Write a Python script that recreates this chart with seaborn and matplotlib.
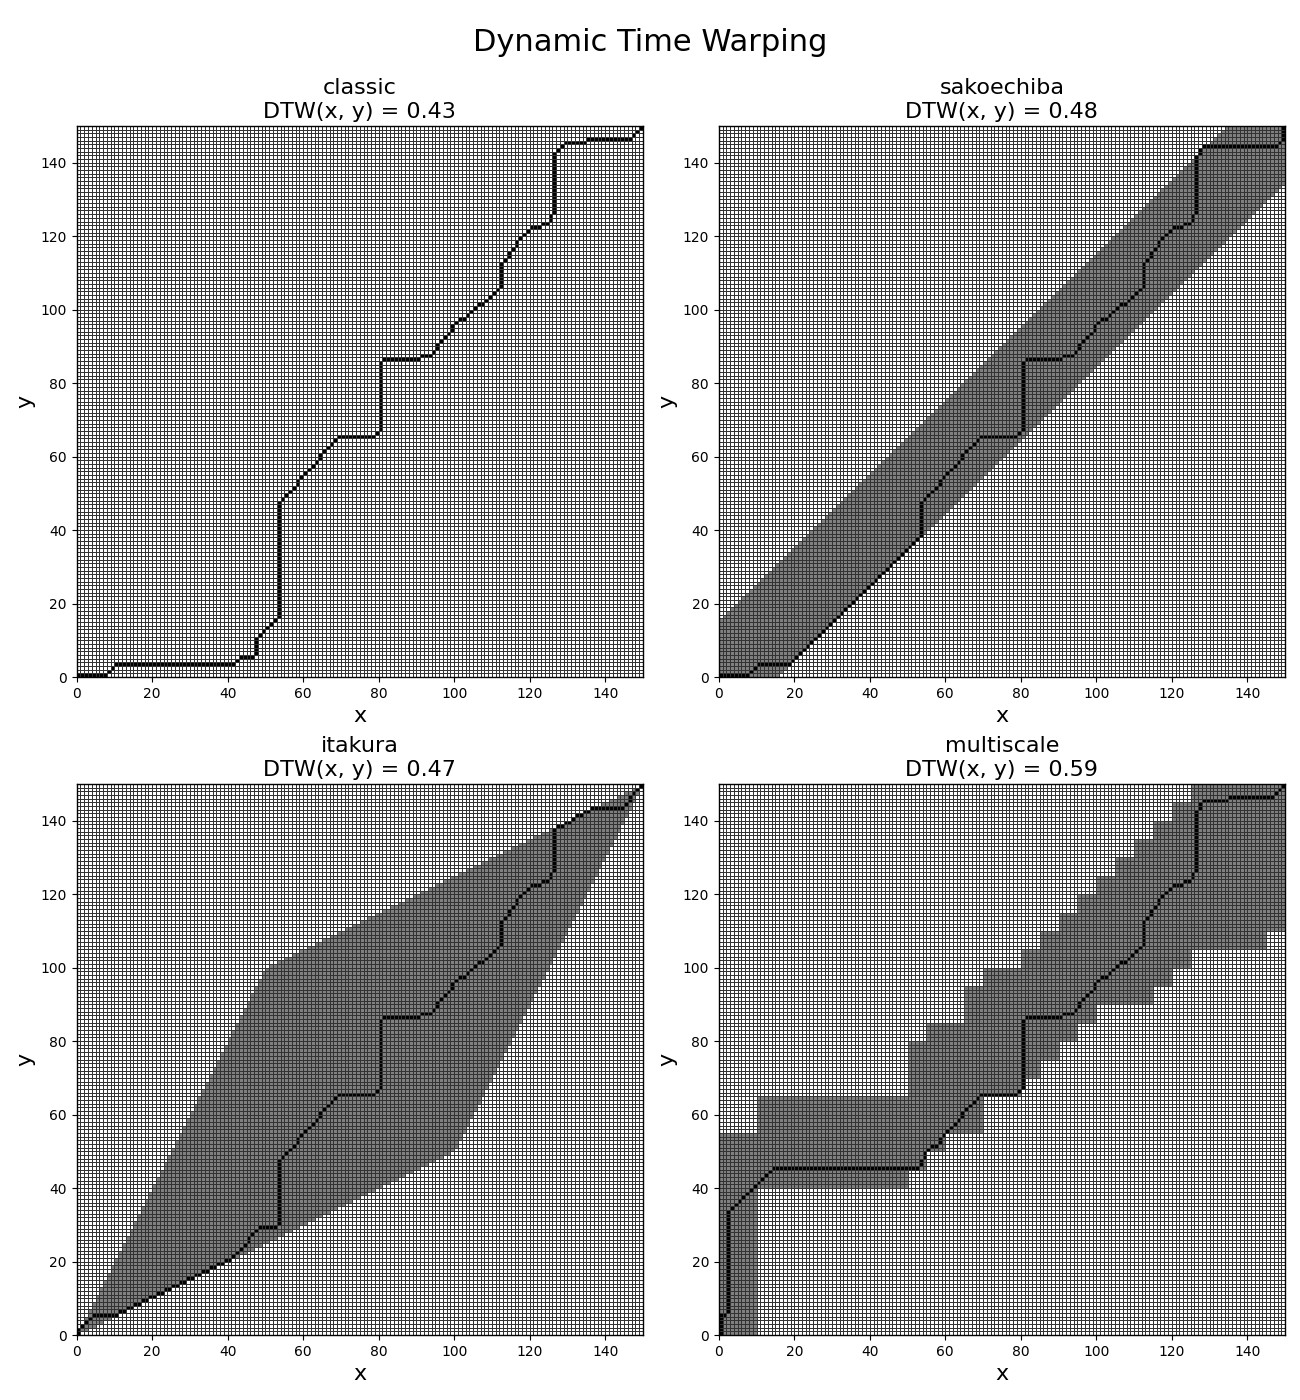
import numpy as np
import matplotlib
matplotlib.use("Agg")
import matplotlib.pyplot as plt
from matplotlib.colors import ListedColormap
import seaborn as sns

# 方法名与对应的 DTW 距离
methods = ["classic", "sakoechiba", "itakura", "multiscale"]
dtw_scores = [0.43, 0.48, 0.47, 0.59]
grid_size = 150

# 约束参数
sakoe_radius = 15
itakura_slope = 2.0

# multiscale 约束：每个列块的起点、下界、上界
ms_block_x = [0, 10, 50, 55, 60, 65, 70, 80, 85, 90, 95, 100, 105, 110, 115, 120, 125, 145]
ms_block_low = [0, 40, 45, 50, 55, 55, 65, 70, 75, 80, 85, 90, 90, 90, 95, 100, 105, 110]
ms_block_high = [55, 65, 80, 85, 85, 95, 100, 105, 110, 115, 120, 125, 130, 135, 140, 145, 150, 150]

# 对齐路径的拐点 (x, y)
classic_path = [
    (0, 0), (7, 0), (10, 3), (41, 3), (43, 5), (46, 5), (47, 6), (47, 10), (53, 16),
    (53, 47), (58, 52), (58, 53), (64, 59), (64, 60), (69, 65), (78, 65), (80, 67),
    (80, 85), (81, 86), (90, 86), (91, 87), (93, 87), (101, 97), (102, 97), (112, 106),
    (112, 112), (118, 120), (120, 122), (122, 122), (125, 124), (126, 126), (126, 141),
    (127, 143), (129, 145), (134, 145), (135, 146), (146, 146), (149, 149),
]
sakoechiba_path = [
    (0, 0), (7, 0), (10, 3), (18, 3), (53, 38), (53, 47), (58, 52), (58, 53), (64, 59),
    (64, 60), (69, 65), (78, 65), (80, 67), (80, 85), (81, 86), (90, 86), (91, 87),
    (93, 87), (101, 97), (102, 97), (112, 106), (112, 112), (118, 120), (120, 122),
    (122, 122), (125, 124), (126, 126), (126, 141), (127, 142), (128, 144), (147, 144),
    (148, 145), (149, 146), (149, 149),
]
itakura_path = [
    (0, 0), (1, 2), (4, 5), (10, 5), (41, 21), (48, 29), (52, 29), (53, 30), (53, 47),
    (58, 52), (58, 53), (64, 59), (64, 60), (69, 65), (78, 65), (80, 67), (80, 85),
    (81, 86), (90, 86), (91, 87), (93, 87), (101, 97), (102, 97), (112, 106), (112, 112),
    (118, 120), (120, 122), (122, 122), (125, 124), (126, 126), (126, 137), (136, 143),
    (144, 143), (149, 149),
]
multiscale_path = [
    (0, 0), (0, 5), (2, 6), (2, 33), (14, 45), (52, 45), (54, 48), (55, 50), (56, 51),
    (57, 51), (58, 52), (58, 53), (64, 59), (64, 60), (69, 65), (78, 65), (80, 67),
    (80, 85), (81, 86), (90, 86), (91, 87), (93, 87), (101, 97), (102, 97), (112, 106),
    (112, 112), (118, 120), (120, 122), (122, 122), (125, 124), (126, 126), (126, 142),
    (128, 145), (134, 145), (135, 146), (146, 146), (149, 149),
]


def trace(waypoints):
    """
    将拐点展开为逐格的路径。
    """
    cells = [waypoints[0]]
    for (x0, y0), (x1, y1) in zip(waypoints[:-1], waypoints[1:]):
        n = max(abs(x1 - x0), abs(y1 - y0))
        for k in range(1, n + 1):
            cells.append((x0 + round(k * (x1 - x0) / n), y0 + round(k * (y1 - y0) / n)))
    return cells


def build_masks():
    idx = np.arange(grid_size)
    xx, yy = np.meshgrid(idx, idx)

    classic = np.zeros((grid_size, grid_size))
    sakoe = (np.abs(xx - yy) <= sakoe_radius).astype(float)

    itakura = np.zeros((grid_size, grid_size))
    n = grid_size - 1
    for i in range(grid_size):
        low = int(np.ceil(max(i / itakura_slope, n - itakura_slope * n + itakura_slope * i)))
        high = int(np.floor(min(itakura_slope * i, n - n / itakura_slope + i / itakura_slope)))
        itakura[low:high + 1, i] = 1

    multi = np.zeros((grid_size, grid_size))
    ends = ms_block_x[1:] + [grid_size]
    for x0, x1, lo, hi in zip(ms_block_x, ends, ms_block_low, ms_block_high):
        multi[lo:hi, x0:x1] = 1

    return [classic, sakoe, itakura, multi]


def main():
    masks = build_masks()
    paths = [classic_path, sakoechiba_path, itakura_path, multiscale_path]
    cmap = ListedColormap(["white", "gray", "black"])

    fig, axes = plt.subplots(2, 2, figsize=(13, 14), dpi=100)
    fig.subplots_adjust(left=0.059, right=0.9885, top=0.91, bottom=0.0464, wspace=0.134, hspace=0.194)

    for ax, name, score, mask, path in zip(axes.flat, methods, dtw_scores, masks, paths):
        mat = mask.copy()
        for x, y in trace(path):
            mat[y, x] = 2
        sns.heatmap(mat, ax=ax, cmap=cmap, vmin=0, vmax=2, cbar=False,
                    linewidths=0.4, linecolor="0.2", xticklabels=False, yticklabels=False)
        ax.set_xlim(0, grid_size)
        ax.set_ylim(0, grid_size)
        ticks = np.arange(0, grid_size, 20)
        ax.set_xticks(ticks)
        ax.set_xticklabels([str(t) for t in ticks], rotation=0, fontsize=10)
        ax.set_yticks(ticks)
        ax.set_yticklabels([str(t) for t in ticks], rotation=0, fontsize=10)
        ax.tick_params(length=3.5, width=0.8)
        for sp in ax.spines.values():
            sp.set_visible(True)
            sp.set_linewidth(1.0)
            sp.set_color("black")
        ax.set_title(f"{name}\nDTW(x, y) = {score:.2f}", fontsize=16)
        ax.set_xlabel("x", fontsize=16)
        ax.set_ylabel("y", fontsize=16)

    fig.suptitle("Dynamic Time Warping", fontsize=22, y=0.98)
    fig.savefig("out.png", dpi=100)
    plt.close(fig)


if __name__ == "__main__":
    main()
